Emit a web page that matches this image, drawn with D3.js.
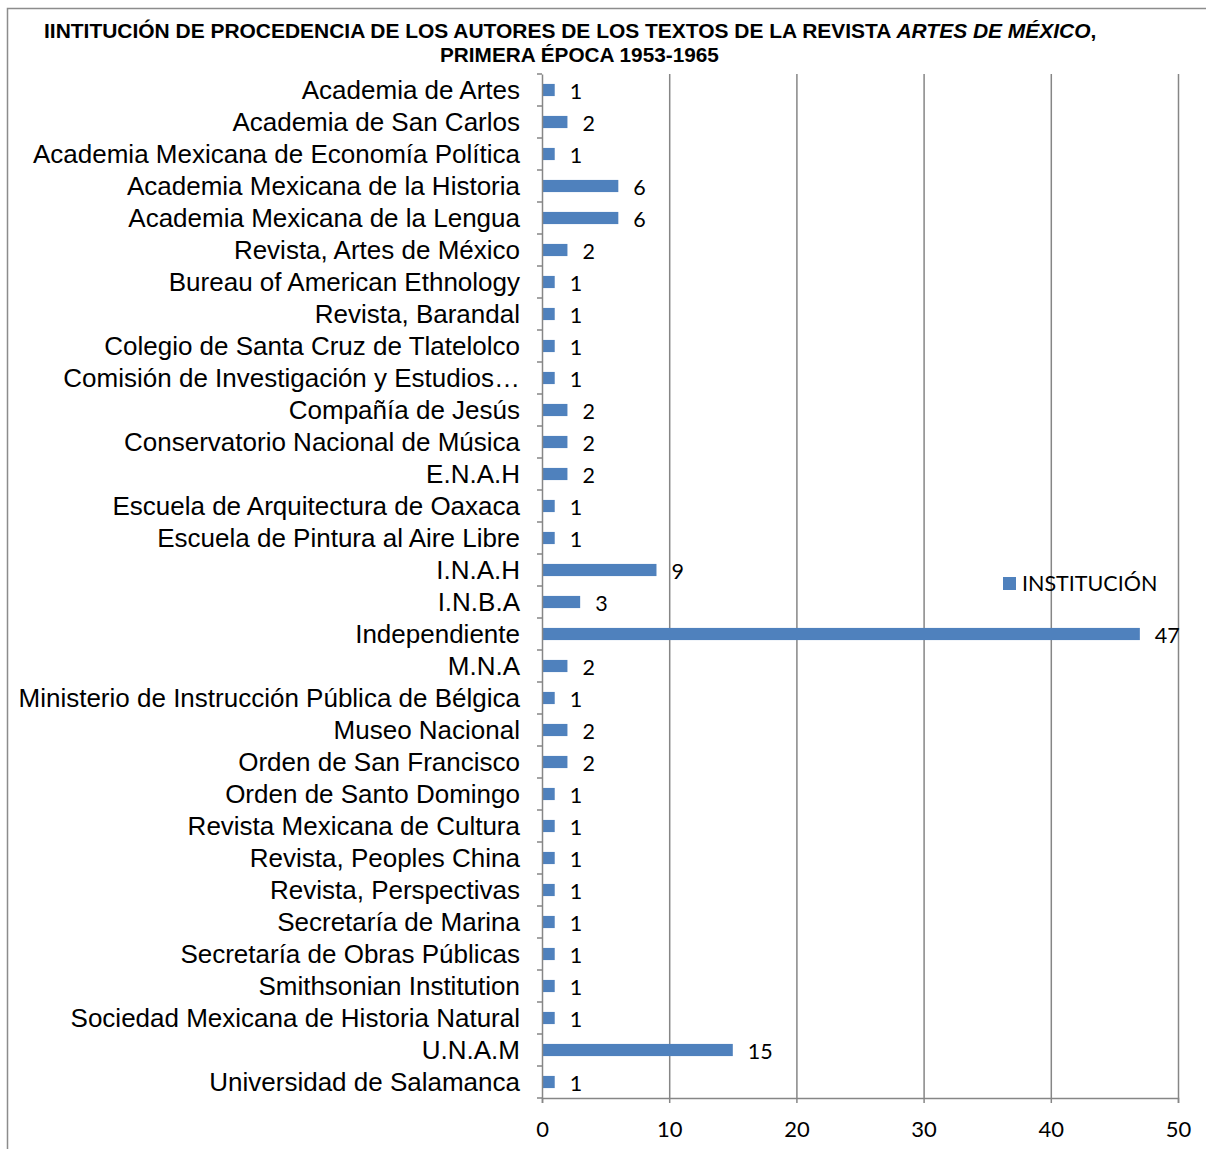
<!DOCTYPE html>
<html>
<head>
<meta charset="utf-8">
<script src="https://cdn.jsdelivr.net/npm/d3@7"></script>
<style>
  body { margin: 0; background: #fff; }
  svg { display: block; }
</style>
</head>
<body>
<div id="chart"></div>
<script>
var categories = [
  "Academia de Artes",
  "Academia de San Carlos",
  "Academia Mexicana de Economía Política",
  "Academia Mexicana de la Historia",
  "Academia Mexicana de la Lengua",
  "Revista, Artes de México",
  "Bureau of American Ethnology",
  "Revista, Barandal",
  "Colegio de Santa Cruz de Tlatelolco",
  "Comisión de Investigación y Estudios…",
  "Compañía de Jesús",
  "Conservatorio Nacional de Música",
  "E.N.A.H",
  "Escuela de Arquitectura de Oaxaca",
  "Escuela de Pintura al Aire Libre",
  "I.N.A.H",
  "I.N.B.A",
  "Independiente",
  "M.N.A",
  "Ministerio de Instrucción Pública de Bélgica",
  "Museo Nacional",
  "Orden de San Francisco",
  "Orden de Santo Domingo",
  "Revista Mexicana de Cultura",
  "Revista, Peoples China",
  "Revista, Perspectivas",
  "Secretaría de Marina",
  "Secretaría de Obras Públicas",
  "Smithsonian Institution",
  "Sociedad Mexicana de Historia Natural",
  "U.N.A.M",
  "Universidad de Salamanca"
];
var values = [1, 2, 1, 6, 6, 2, 1, 1, 1, 1, 2, 2, 2, 1, 1, 9, 3, 47, 2, 1, 2, 2, 1, 1, 1, 1, 1, 1, 1, 1, 15, 1];
var xTicks = [0, 10, 20, 30, 40, 50];
var seriesName = "INSTITUCIÓN";

var W = 1206, H = 1149;
var margin = { left: 542, right: 28, top: 74, bottom: 51 };
var barColor = "#4F81BD";
var gridColor = "#868686";
var arial = "Arial, 'Liberation Sans', Helvetica, sans-serif";

var svg = d3.select("#chart").append("svg")
    .attr("width", W)
    .attr("height", H);

// outer frame
svg.append("rect")
    .attr("x", 7.5).attr("y", 8.5)
    .attr("width", W + 10).attr("height", H + 10)
    .attr("fill", "none")
    .attr("stroke", "#8c8c8c")
    .attr("stroke-width", 1.5);

var x = d3.scaleLinear()
    .domain([0, 50])
    .range([margin.left, W - margin.right]);

var y = d3.scaleBand()
    .domain(categories)
    .range([margin.top, H - margin.bottom])
    .paddingInner(0.62)
    .paddingOuter(0.31);

var yBand = d3.scaleBand()
    .domain(categories)
    .range([margin.top, H - margin.bottom]);

// vertical gridlines
svg.append("g").selectAll("line")
    .data(xTicks.slice(1))
    .enter().append("line")
    .attr("x1", function(d) { return x(d) + 0.5; })
    .attr("x2", function(d) { return x(d) + 0.5; })
    .attr("y1", margin.top)
    .attr("y2", H - margin.bottom)
    .attr("stroke", gridColor)
    .attr("stroke-width", 1.5);

// bars
svg.append("g").selectAll("rect")
    .data(values)
    .enter().append("rect")
    .attr("x", x(0))
    .attr("y", function(d, i) { return y(categories[i]); })
    .attr("width", function(d) { return x(d) - x(0); })
    .attr("height", y.bandwidth())
    .attr("fill", barColor);

// value labels
svg.append("g").selectAll("text")
    .data(values)
    .enter().append("text")
    .attr("x", function(d) { return x(d) + 15; })
    .attr("y", function(d, i) { return yBand(categories[i]) + yBand.bandwidth() / 2 + 9; })
    .attr("font-family", "Lato, 'Open Sans', sans-serif")
    .attr("font-size", 21.5)
    .attr("fill", "#000")
    .text(function(d) { return d; });

// y axis
var yAxis = d3.axisLeft(yBand).tickSize(0).tickPadding(22);
var gy = svg.append("g")
    .attr("transform", "translate(" + x(0) + ",0)")
    .call(yAxis);
gy.attr("font-family", arial).attr("font-size", 26);
gy.select(".domain").attr("stroke", gridColor).attr("stroke-width", 1.5);
gy.selectAll("text")
    .attr("fill", "#000")
    .attr("dy", "0.34em");
gy.append("g").selectAll("line")
    .data(d3.range(categories.length + 1))
    .enter().append("line")
    .attr("x1", -5).attr("x2", 0)
    .attr("y1", function(i) { return margin.top + i * yBand.step(); })
    .attr("y2", function(i) { return margin.top + i * yBand.step(); })
    .attr("stroke", gridColor)
    .attr("stroke-width", 1.5);

// x axis
var xAxis = d3.axisBottom(x).tickValues(xTicks).tickSize(5).tickPadding(18);
var gx = svg.append("g")
    .attr("transform", "translate(0," + (H - margin.bottom) + ")")
    .call(xAxis);
gx.attr("font-family", "Lato, sans-serif").attr("font-size", 22);
gx.select(".domain").attr("stroke", gridColor).attr("stroke-width", 1.5);
gx.selectAll(".tick line").attr("stroke", gridColor).attr("stroke-width", 1.5);
gx.selectAll("text").attr("fill", "#000");

// legend
var lg = svg.append("g").attr("transform", "translate(1003,577)");
lg.append("rect").attr("width", 13).attr("height", 13).attr("fill", barColor);
lg.append("text")
    .attr("x", 19).attr("y", 14)
    .attr("font-family", "Lato, 'Open Sans', sans-serif")
    .attr("font-size", 21.5)
    .attr("fill", "#000")
    .text(seriesName);

// title
var title = svg.append("g")
    .attr("font-family", arial)
    .attr("font-weight", "bold")
    .attr("font-size", 21)
    .attr("fill", "#000")
    .style("white-space", "pre");
var t1 = title.append("text").attr("y", 38);
t1.append("tspan").text("IINTITUCIÓN  DE PROCEDENCIA DE LOS AUTORES DE LOS TEXTOS DE LA REVISTA ");
t1.append("tspan").attr("font-style", "italic").text("ARTES DE MÉXICO");
t1.append("tspan").text(",");
var t2 = title.append("text").attr("y", 62).text("PRIMERA ÉPOCA 1953-1965");

function fit(sel, left, right) {
  var w = sel.node().getComputedTextLength();
  var target = right - left;
  sel.attr("transform", "translate(" + left + ",0) scale(" + (target / w) + ",1)");
}
fit(t1, 44, 1097);
fit(t2, 440, 719);
</script>
</body>
</html>
